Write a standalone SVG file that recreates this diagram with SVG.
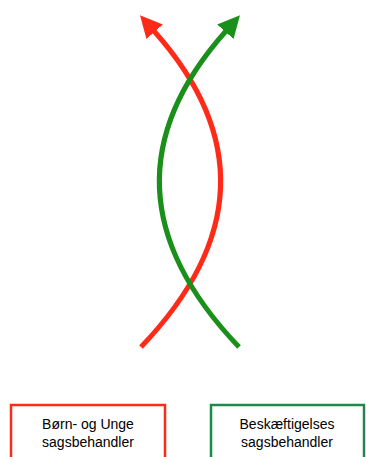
<svg xmlns="http://www.w3.org/2000/svg" width="366" height="457" viewBox="0 0 366 457">
<style>
.box{fill:#fff;stroke-width:2.5}
.lbl{font-family:"Liberation Sans",Arial,sans-serif;font-size:14px;fill:#000;text-anchor:middle}
.arr{fill:none;stroke-width:5}
</style>
<defs>
<marker id="hr" markerUnits="userSpaceOnUse" markerWidth="22" markerHeight="22" refX="1" refY="11" orient="auto" viewBox="0 0 22 22"><path d="M0,0 L22,11 L0,22 z" fill="#FF2A17"/></marker>
<marker id="hg" markerUnits="userSpaceOnUse" markerWidth="22" markerHeight="22" refX="1" refY="11" orient="auto" viewBox="0 0 22 22"><path d="M0,0 L22,11 L0,22 z" fill="#1A8F1A"/></marker>
</defs>
<g id="connectors">
<path class="arr" stroke="#FF2A17" d="M141,347 Q293.5,187.5 154,31" marker-end="url(#hr)"/>
<path class="arr" stroke="#1A8F1A" d="M239,347 Q86.5,187.5 226,31" marker-end="url(#hg)"/>
</g>
<g id="node-born">
<rect class="box" x="11" y="405" width="154" height="60" stroke="#FF2A17"/>
<text class="lbl" x="88" y="429">Børn- og Unge</text>
<text class="lbl" x="88" y="447">sagsbehandler</text>
</g>
<g id="node-besk">
<rect class="box" x="211" y="405" width="153" height="60" stroke="#1E8A4A"/>
<text class="lbl" x="287" y="429">Beskæftigelses</text>
<text class="lbl" x="287" y="447">sagsbehandler</text>
</g>
</svg>
